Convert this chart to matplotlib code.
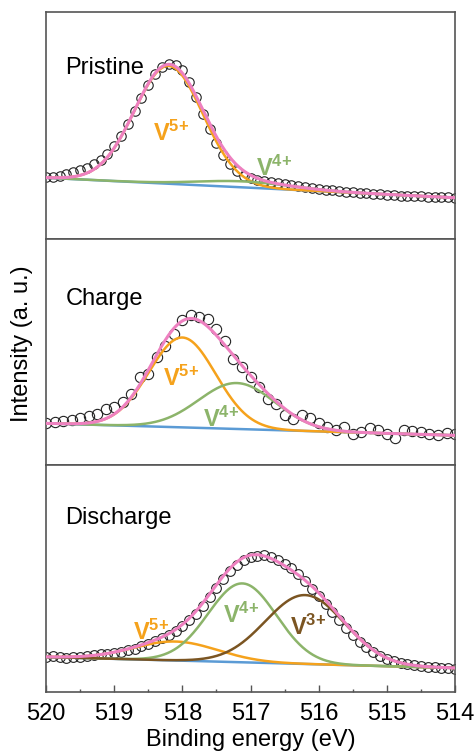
import matplotlib.pyplot as plt
import numpy as np

plt.rcParams['font.family'] = ['Liberation Sans', 'DejaVu Sans']
plt.rcParams['mathtext.fontset'] = 'custom'
plt.rcParams['mathtext.rm'] = 'Liberation Sans'
plt.rcParams['mathtext.bf'] = 'Liberation Sans:bold'

# measured V 2p3/2 spectra (intensity, a.u.)
e_fine = np.linspace(520, 514, 61)     # 0.1 eV step
e_coarse = np.linspace(520, 514, 49)   # 0.125 eV step

pristine = [61.5, 62, 63, 64.5, 66.5, 68.5, 71, 74.5, 79, 85,
            93, 103, 115, 128, 141, 154, 165, 172, 175, 174,
            169, 157, 142, 125, 110, 96, 84, 75, 68, 63,
            60.5, 59, 58, 57, 56, 55, 54, 53, 52, 51,
            50, 49, 48.5, 47.5, 47, 46.5, 46, 45.5, 45, 44.5,
            44, 43.5, 43, 43, 42.5, 42.5, 42, 42, 41.5, 41.5, 41]

charge = [42.3, 43.3, 44.7, 45.7, 47.3, 49, 51, 56.7, 58.3, 63.3,
          71.7, 88.3, 91, 108.3, 120, 132, 145.7, 151, 149, 146.7,
          136.7, 125, 106.7, 98.3, 88.3, 78.3, 66.7, 61.7, 50, 46.7,
          50, 47.7, 42.3, 38.3, 35, 38.3, 31.7, 33.3, 37.7, 35,
          31, 27.7, 35, 34, 33.3, 31, 30, 32.3, 31]

discharge = [35.5, 35.8, 35, 34.5, 35.2, 35.5, 36, 37.5, 37.8, 38.5,
             39.5, 40.5, 42, 43.5, 46, 48.5, 51, 54, 57.5, 61.5,
             66, 72, 78.5, 86, 95, 104, 113, 121, 127.5, 132,
             135, 136.5, 137, 135, 132, 128, 124, 118, 111, 103,
             96, 88, 80, 72, 64.5, 57, 50.5, 45, 40.5, 36.5,
             33.5, 31, 29.5, 28, 27, 26, 25.5, 25, 24.5, 24, 23.5]

# fitted components: centre (eV), height, FWHM (eV)
pristine_v5 = [518.2, 118, 1.18]
pristine_v4 = [517.1, 6, 1.6]
charge_v5 = [518.0, 90, 1.15]
charge_v4 = [517.2, 46, 1.32]
discharge_v5 = [518.1, 19, 1.46]
discharge_v4 = [517.12, 79, 1.18]
discharge_v3 = [516.2, 69, 1.37]

# linear background, value at 520 eV and at 514 eV
pristine_bg = [61, 41]
charge_bg = [42, 30]
discharge_bg = [35, 24]

c_v5 = '#F5A21C'
c_v4 = '#8CB46A'
c_v3 = '#7B5522'
c_bg = '#5B9BD5'
c_env = '#EE80C0'


def gauss(x, p):
    sigma = p[2] / 2.3548
    return p[1] * np.exp(-0.5 * ((x - p[0]) / sigma) ** 2)


xf = np.linspace(520, 514, 600)

fig, axes = plt.subplots(3, 1, figsize=(4.77, 7.51), dpi=100, sharex=True)
fig.subplots_adjust(left=0.0964, right=0.954, top=0.984, bottom=0.0786, hspace=0)

panels = [
    ('Pristine', e_fine, pristine, pristine_bg,
     [(pristine_v5, c_v5), (pristine_v4, c_v4)], 6.8, 0.752),
    ('Charge', e_coarse, charge, charge_bg,
     [(charge_v5, c_v5), (charge_v4, c_v4)], 7.4, 0.736),
    ('Discharge', e_fine, discharge, discharge_bg,
     [(discharge_v5, c_v5), (discharge_v4, c_v4), (discharge_v3, c_v3)], 7, 0.767),
]

for ax, (name, ex, ey, bg, comps, ms, ty) in zip(axes, panels):
    base = np.interp(xf, [514, 520], bg[::-1])
    ax.plot(ex, ey, 'o', ms=ms, mfc='none', mec='#222222', mew=0.8, zorder=2)
    ax.plot(xf, base, color=c_bg, lw=1.8, zorder=3)
    total = base.copy()
    for p, c in comps:
        comp = gauss(xf, p)
        total += comp
        ax.plot(xf, base + comp, color=c, lw=1.8, zorder=4)
    ax.plot(xf, total, color=c_env, lw=2.2, zorder=5)
    ax.text(0.048, ty, name, transform=ax.transAxes, fontsize=17,
            ha='left', va='center')
    ax.set_ylim(0, 227)
    ax.set_yticks([])
    for s in ax.spines.values():
        s.set_color('#555555')
        s.set_linewidth(1.2)
    ax.tick_params(axis='x', which='both', bottom=False, top=False, labelbottom=False)

# component labels
lab = dict(fontsize=17, ha='left', va='baseline')
axes[0].text(518.43, 98, r'$\mathbf{V^{5{+}}}$', color=c_v5, **lab)
axes[0].text(516.92, 63, r'$\mathbf{V^{4{+}}}$', color=c_v4, **lab)
axes[1].text(518.28, 80, r'$\mathbf{V^{5{+}}}$', color=c_v5, **lab)
axes[1].text(517.69, 38, r'$\mathbf{V^{4{+}}}$', color=c_v4, **lab)
axes[2].text(518.72, 52, r'$\mathbf{V^{5{+}}}$', color=c_v5, **lab)
axes[2].text(517.40, 69, r'$\mathbf{V^{4{+}}}$', color=c_v4, **lab)
axes[2].text(516.42, 57, r'$\mathbf{V^{3{+}}}$', color=c_v3, **lab)

ax = axes[2]
ax.set_xlim(520, 514)
ax.set_xticks(np.arange(520, 513, -1))
ax.set_xticks(np.arange(519.5, 514, -1), minor=True)
ax.tick_params(axis='x', which='both', bottom=True, labelbottom=True,
               direction='in', labelsize=17, color='#555555', pad=8)
ax.tick_params(axis='x', which='major', length=5, width=1)
ax.tick_params(axis='x', which='minor', length=2.5, width=1)
ax.set_xlabel('Binding energy (eV)', fontsize=17, labelpad=3)

fig.text(0.047, 0.543, 'Intensity (a. u.)', rotation=90, fontsize=17,
         ha='center', va='center')

plt.savefig('out.png', dpi=100)
